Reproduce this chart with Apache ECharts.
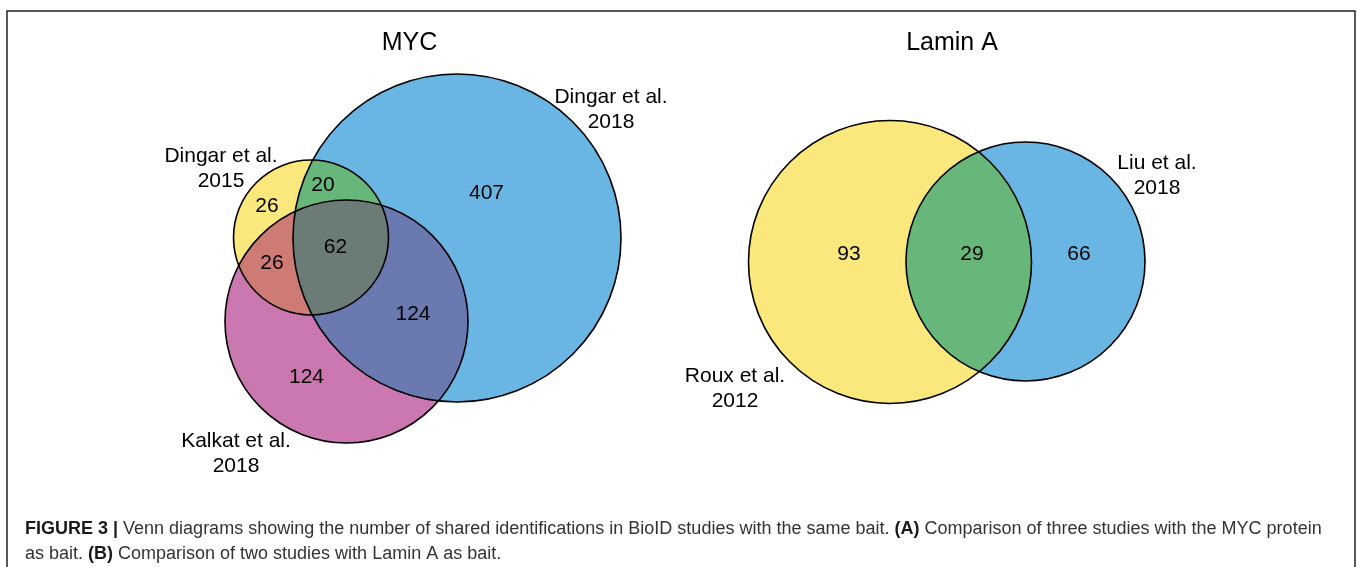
<!DOCTYPE html>
<html>
<head>
<meta charset="utf-8">
<title>Venn diagrams - BioID</title>
<script src="https://cdn.jsdelivr.net/npm/echarts@6/dist/echarts.min.js"></script>
<style>
  html, body { margin: 0; padding: 0; background: #fff; }
  #main { width: 1358px; height: 567px; }
</style>
</head>
<body>
<div id="main"></div>
<script>
// ---- data ----
// MYC: 0 = Dingar 2018, 1 = Dingar 2015, 2 = Kalkat 2018
var mycSetNames = ['Dingar et al.\n2018', 'Dingar et al.\n2015', 'Kalkat et al.\n2018'];
var mycRegionSets = [[0], [0, 1], [1], [0, 1, 2], [1, 2], [0, 2], [2]];
var mycRegionCounts = [407, 20, 26, 62, 26, 124, 124];
// Lamin A: 0 = Roux 2012, 1 = Liu 2018
var laminSetNames = ['Roux et al.\n2012', 'Liu et al.\n2018'];
var laminRegionSets = [[0], [0, 1], [1]];
var laminRegionCounts = [93, 29, 66];
var panelTitles = ['MYC', 'Lamin A'];

// ---- layout (axis units = pixels of the figure) ----
var mycCircles = [
    {x: 457, y: 238, r: 164},
    {x: 311, y: 237.5, r: 77.5},
    {x: 346.5, y: 321.5, r: 121.5}
];
var laminCircles = [
    {x: 890, y: 262, r: 141.5},
    {x: 1025.5, y: 261.5, r: 119.5}
];
var mycSetLabelPos = [[611, 110], [221, 169], [236, 454]];
var laminSetLabelPos = [[735, 389], [1157, 176]];
var mycRegionLabelPos = [[486.5, 193], [323, 185.5], [267, 206], [335.5, 247], [272, 263], [413, 314.5], [306.5, 377]];
var laminRegionLabelPos = [[849, 254.5], [972, 254.5], [1079, 254.5]];
var titlePos = [404.5, 947];

// fill colours per set combination
var fillColors = {
    'my:0': '#69B6E4', 'my:1': '#FAE87D', 'my:2': '#CB78B0',
    'my:0,1': '#67B77A', 'my:1,2': '#CE7B76', 'my:0,2': '#6A7AB1', 'my:0,1,2': '#6B7B76',
    'la:0': '#FAE87D', 'la:1': '#69B6E4', 'la:0,1': '#67B77A'
};
// draw order: whole circles first, then overlaps
var fillItems = [
    {p: 'my', c: mycCircles, m: [0]}, {p: 'my', c: mycCircles, m: [1]}, {p: 'my', c: mycCircles, m: [2]},
    {p: 'my', c: mycCircles, m: [0, 1]}, {p: 'my', c: mycCircles, m: [1, 2]}, {p: 'my', c: mycCircles, m: [0, 2]},
    {p: 'my', c: mycCircles, m: [0, 1, 2]},
    {p: 'la', c: laminCircles, m: [0]}, {p: 'la', c: laminCircles, m: [1]}, {p: 'la', c: laminCircles, m: [0, 1]}
];
var allCircles = mycCircles.concat(laminCircles);

var font = '"Liberation Sans", Arial, Helvetica, sans-serif';

function toPx(api, c) {
    var p = api.coord([c.x, c.y]);
    return {x: p[0], y: p[1], r: Math.abs(api.size([c.r, c.r])[0])};
}

// intersection of discs is convex, so sample the rims and sort by angle
function lensPoints(cs) {
    var pts = [], n = 1440;
    cs.forEach(function (c, i) {
        for (var k = 0; k < n; k++) {
            var a = k / n * Math.PI * 2;
            var px = c.x + c.r * Math.cos(a), py = c.y + c.r * Math.sin(a);
            var ok = cs.every(function (o, j) {
                if (j === i) return true;
                return Math.hypot(px - o.x, py - o.y) <= o.r + 0.01;
            });
            if (ok) pts.push([px, py]);
        }
    });
    var mx = 0, my = 0;
    pts.forEach(function (p) { mx += p[0]; my += p[1]; });
    mx /= pts.length; my /= pts.length;
    pts.sort(function (a, b) {
        return Math.atan2(a[1] - my, a[0] - mx) - Math.atan2(b[1] - my, b[0] - mx);
    });
    return pts;
}

var chart = echarts.init(document.getElementById('main'));

var labelStyle = {
    show: true, position: 'inside',
    fontFamily: font, fontSize: 21, color: '#000',
    textBorderWidth: 0, textShadowBlur: 0, opacity: 1
};

var option = {
    animation: false,
    backgroundColor: '#fff',
    grid: {left: 0, right: 0, top: 0, bottom: 0},
    xAxis: {type: 'value', min: 0, max: 1358, show: false},
    yAxis: {type: 'value', min: 0, max: 567, inverse: true, show: false},
    title: panelTitles.map(function (t, i) {
        return {
            text: t,
            left: titlePos[i],
            top: 26,
            textAlign: 'center',
            textStyle: {fontFamily: font, fontSize: 25, fontWeight: 'normal', color: '#000'}
        };
    }),
    graphic: [
        {
            type: 'polyline',
            silent: true,
            shape: {points: [[7, 567], [7, 11], [1355, 11], [1355, 567]]},
            style: {stroke: '#222', lineWidth: 1.5, fill: null}
        },
        {
            type: 'text',
            silent: true,
            left: 25,
            top: 517,
            style: {
                text: '{b|FIGURE 3 |} Venn diagrams showing the number of shared identifications in BioID studies with the same bait. {b|(A)} Comparison of three studies with the MYC protein\nas bait. {b|(B)} Comparison of two studies with Lamin A as bait.',
                fontFamily: font,
                fontSize: 18,
                lineHeight: 25,
                fill: '#333',
                rich: {
                    b: {fontFamily: font, fontSize: 18, fontWeight: 'bold', fill: '#1a1a1a', lineHeight: 25}
                }
            }
        }
    ],
    series: [
        {
            type: 'custom',
            name: 'regions',
            silent: true,
            clip: false,
            data: fillItems.map(function (f) { return [f.c[f.m[0]].x, f.c[f.m[0]].y]; }),
            renderItem: function (params, api) {
                var f = fillItems[params.dataIndex];
                var color = fillColors[f.p + ':' + f.m.join(',')];
                var cs = f.m.map(function (i) { return toPx(api, f.c[i]); });
                if (cs.length === 1) {
                    return {type: 'circle', shape: {cx: cs[0].x, cy: cs[0].y, r: cs[0].r}, style: {fill: color}};
                }
                return {type: 'polygon', shape: {points: lensPoints(cs)}, style: {fill: color}};
            }
        },
        {
            type: 'custom',
            name: 'outlines',
            silent: true,
            clip: false,
            data: allCircles.map(function (c) { return [c.x, c.y]; }),
            renderItem: function (params, api) {
                var c = toPx(api, allCircles[params.dataIndex]);
                return {
                    type: 'circle',
                    shape: {cx: c.x, cy: c.y, r: c.r},
                    style: {fill: null, stroke: '#000', lineWidth: 1.6}
                };
            }
        },
        {
            type: 'scatter',
            name: 'set labels',
            silent: true,
            symbolSize: 0,
            itemStyle: {opacity: 1},
            data: mycSetNames.map(function (n, i) { return {name: n, value: mycSetLabelPos[i]}; })
                .concat(laminSetNames.map(function (n, i) { return {name: n, value: laminSetLabelPos[i]}; })),
            label: Object.assign({}, labelStyle, {formatter: '{b}', lineHeight: 25, align: 'center'})
        },
        {
            type: 'scatter',
            name: 'counts',
            silent: true,
            symbolSize: 0,
            itemStyle: {opacity: 1},
            data: mycRegionCounts.map(function (v, i) { return mycRegionLabelPos[i].concat([v]); })
                .concat(laminRegionCounts.map(function (v, i) { return laminRegionLabelPos[i].concat([v]); })),
            label: Object.assign({}, labelStyle, {
                formatter: function (p) { return String(p.value[2]); }
            })
        }
    ]
};
chart.setOption(option);
</script>
</body>
</html>
